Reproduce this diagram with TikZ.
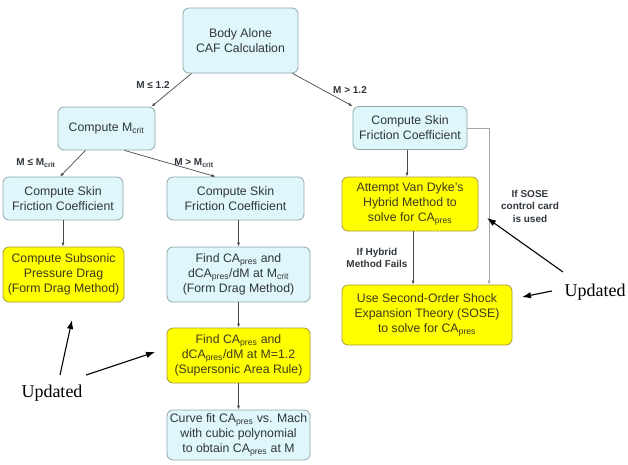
\documentclass[tikz,border=0pt]{standalone}
\usepackage{fontspec}
\setmainfont{Liberation Sans}
\newfontfamily\notefont{Liberation Serif}
\usepackage{xcolor}
\usetikzlibrary{
    arrows.meta
}
\definecolor{boxblue}{HTML}{DFF6FB}
\definecolor{edgeblue}{HTML}{8FA6AC}
\definecolor{boxyellow}{HTML}{FFFF00}
\definecolor{edgeyellow}{HTML}{A99A3A}
\definecolor{txtgray}{HTML}{2F363D}
\definecolor{txtolive}{HTML}{3E3A1A}
\definecolor{linkgray}{HTML}{4A4A4A}

\begin{document}
\begin{tikzpicture}[
        x=1pt, y=-1pt,
        box/.style={
            draw=edgeblue,
            fill=boxblue,
            rounded corners=6pt,
            line width=0.8pt,
            align=center,
            inner sep=1pt,
            text=txtgray,
            font=\fontsize{12.3}{15}\selectfont
        },
        hot/.style={
            box,
            draw=edgeyellow,
            fill=boxyellow,
            text=txtolive
        },
        link/.style={
            draw=linkgray,
            line width=0.7pt,
            -{Latex[length=4pt,width=3pt]}
        },
        cond/.style={
            align=center,
            inner sep=1pt,
            text=txtgray,
            font=\bfseries\fontsize{10}{12.5}\selectfont
        },
        note/.style={
            inner sep=1pt,
            font=\notefont\fontsize{18}{20}\selectfont
        },
        pointer/.style={
            line width=1.1pt,
            -{Latex[length=9pt,width=6.5pt]}
        }
    ]
    \useasboundingbox (0,0) rectangle (628,464);

    % top
    \node[box, minimum width=115pt, minimum height=65pt] (A) at (240.5,40.5)
        {Body Alone\\CAF Calculation};

    % subsonic branch
    \node[box, minimum width=97pt, minimum height=43pt] (Mc) at (106.5,128.5)
        {Compute M\textsubscript{crit}};
    \node[box, minimum width=120pt, minimum height=43pt] (B1) at (63,198.5)
        {Compute Skin\\Friction Coefficient};
    \node[hot, minimum width=121pt, minimum height=55pt] (L2) at (63.5,274.5)
        {Compute Subsonic\\Pressure Drag\\(Form Drag Method)};

    % transonic branch
    \node[box, minimum width=137pt, minimum height=43pt] (B2) at (235.5,198.5)
        {Compute Skin\\Friction Coefficient};
    \node[box, minimum width=143pt, minimum height=55pt] (M2) at (238.5,274.5)
        {Find CA\textsubscript{pres} and\\dCA\textsubscript{pres}/dM at M\textsubscript{crit}\\(Form Drag Method)};
    \node[hot, minimum width=143pt, minimum height=55pt] (M3) at (238.5,355.5)
        {Find CA\textsubscript{pres} and\\dCA\textsubscript{pres}/dM at M=1.2\\(Supersonic Area Rule)};
    \node[box, minimum width=143pt, minimum height=50pt] (M4) at (238.5,435)
        {Curve fit CA\textsubscript{pres} vs. Mach\\with cubic polynomial\\to obtain CA\textsubscript{pres} at M};

    % supersonic branch
    \node[box, minimum width=114pt, minimum height=43pt] (R1) at (410,128)
        {Compute Skin\\Friction Coefficient};
    \node[hot, minimum width=136pt, minimum height=54pt] (R2) at (410,204)
        {Attempt Van Dyke's\\Hybrid Method to\\solve for CA\textsubscript{pres}};
    \node[hot, minimum width=170pt, minimum height=60pt] (R3) at (427,315)
        {Use Second-Order Shock\\Expansion Theory (SOSE)\\to solve for CA\textsubscript{pres}};

    % connectors
    \draw[link] ([xshift=-49pt]A.south) -- ([xshift=45pt]Mc.north);
    \draw[link] ([xshift=52pt]A.south) -- (R1.north west);
    \draw[link] ([xshift=-21pt]Mc.south) -- ([xshift=-3pt]B1.north);
    \draw[link] ([xshift=18pt]Mc.south) -- ([xshift=-20pt]B2.north);
    \draw[link] (B1.south) -- (B1.south |- L2.north);
    \draw[link] (M2.north |- B2.south) -- (M2.north);
    \draw[link] (M2) -- (M3);
    \draw[link] (M3) -- (M4);
    \draw[link] ([xshift=-3pt]R1.south) -- ([xshift=-3pt]R1.south |- R2.north);
    \draw[link] ([xshift=3pt]R2.south) -- ([xshift=3pt]R2.south |- R3.north);
    \draw[link, draw=gray!70] (R1.east) -| ([xshift=62pt]R3.north);

    % conditions
    \node[cond] (c1) at (153,85) {M ≤ 1.2};
    \node[cond] (c2) at (350,90) {M > 1.2};
    \node[cond] (c3) at (36,163) {M ≤ M\textsubscript{crit}};
    \node[cond] (c4) at (194,163) {M > M\textsubscript{crit}};
    \node[cond] (c5) at (377,258) {If Hybrid\\Method Fails};
    \node[cond] (c6) at (530,206) {If SOSE\\control card\\is used};

    % updated notes
    \node[note] (U1) at (52,393) {Updated};
    \node[note] (U2) at (595,292) {Updated};
    \coordinate (t1) at (72,320);
    \coordinate (t2) at (155,352);
    \coordinate (t3) at (522,297);
    \coordinate (t4) at (487,218);
    \draw[pointer] ([shift={(8,-18)}]U1.center) -- (t1);
    \draw[pointer] ([shift={(34,-18)}]U1.center) -- (t2);
    \draw[pointer] ([shift={(-43,-1)}]U2.center) -- (t3);
    \draw[pointer] ([shift={(-32,-20)}]U2.center) -- (t4);

\end{tikzpicture}
\end{document}
